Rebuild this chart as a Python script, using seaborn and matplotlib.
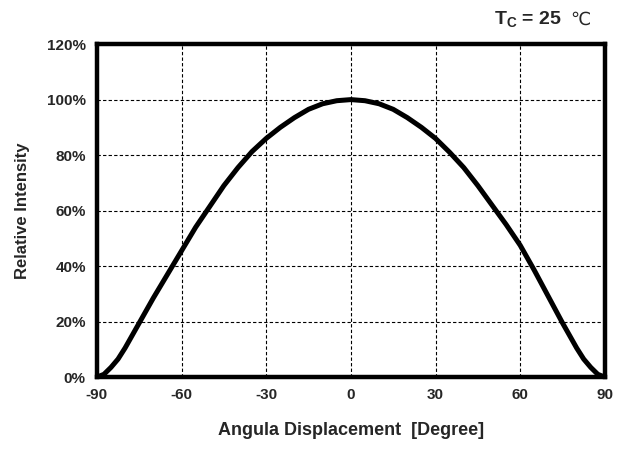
import numpy as np
import pandas as pd
import matplotlib
matplotlib.use('Agg')
import matplotlib.pyplot as plt
import seaborn as sns
from matplotlib.ticker import FuncFormatter

# angle [deg] vs relative intensity [%]
angle = [-90, -87.5, -85, -82.5, -80, -77.5, -75, -70, -65, -60, -55, -50,
         -45, -40, -35, -30, -25, -20, -15, -10, -5, 0, 5, 10, 15, 20, 25,
         30, 35, 40, 45, 50, 55, 60, 65, 70, 75, 77.5, 80, 82.5, 85, 87.5, 90]
intensity = [0, 1, 3.5, 6.5, 10.5, 15, 19.5, 28.5, 37, 45.5, 54, 61.5,
             69, 75.5, 81.3, 86, 90, 93.5, 96.5, 98.5, 99.6, 100, 99.6, 98.5,
             96.5, 93.5, 90, 86, 81, 75.5, 69, 62, 55, 47.5, 38.5, 29, 19.5,
             15, 10.5, 6.5, 3.5, 1, 0]
x_ticks = [-90, -60, -30, 0, 30, 60, 90]
y_ticks = [0, 20, 40, 60, 80, 100, 120]

df = pd.DataFrame({'angle': angle, 'intensity': intensity})

sns.set_style('white')
plt.rcParams['font.family'] = ['Liberation Sans', 'DejaVu Sans']
plt.rcParams['axes.unicode_minus'] = False

fig = plt.figure(figsize=(6.21, 4.5), dpi=100)
ax = fig.add_axes([0.156, 0.162, 0.818, 0.740])

sns.lineplot(data=df, x='angle', y='intensity', ax=ax, color='black',
             linewidth=3.6, zorder=3, solid_joinstyle='round',
             solid_capstyle='round')

ax.set_xlim(-90, 90)
ax.set_ylim(0, 120)
ax.set_xticks(x_ticks)
ax.set_yticks(y_ticks)
ax.yaxis.set_major_formatter(FuncFormatter(lambda v, p: f'{v:.0f}%'))
ax.grid(True, color='black', linestyle=(0, (3, 2)), linewidth=0.8)
ax.tick_params(length=0, pad=8, labelsize=11)
for lab in ax.get_xticklabels() + ax.get_yticklabels():
    lab.set_fontweight('bold')

for sp in ax.spines.values():
    sp.set_visible(True)
    sp.set_color('black')
    sp.set_linewidth(3.2)
    sp.set_zorder(4)

ax.set_xlabel('Angula Displacement  [Degree]', fontsize=13, fontweight='bold', labelpad=14)
ax.set_ylabel('Relative Intensity', fontsize=12, fontweight='bold', labelpad=12)

fig.text(0.905, 0.957, r'T$_\mathregular{C}$ = 25', ha='right', va='center',
         fontsize=14, fontweight='bold')
fig.text(0.918, 0.957, '℃', ha='left', va='center', fontsize=13,
         family=['DejaVu Sans'])

fig.savefig('out.png', dpi=100)
